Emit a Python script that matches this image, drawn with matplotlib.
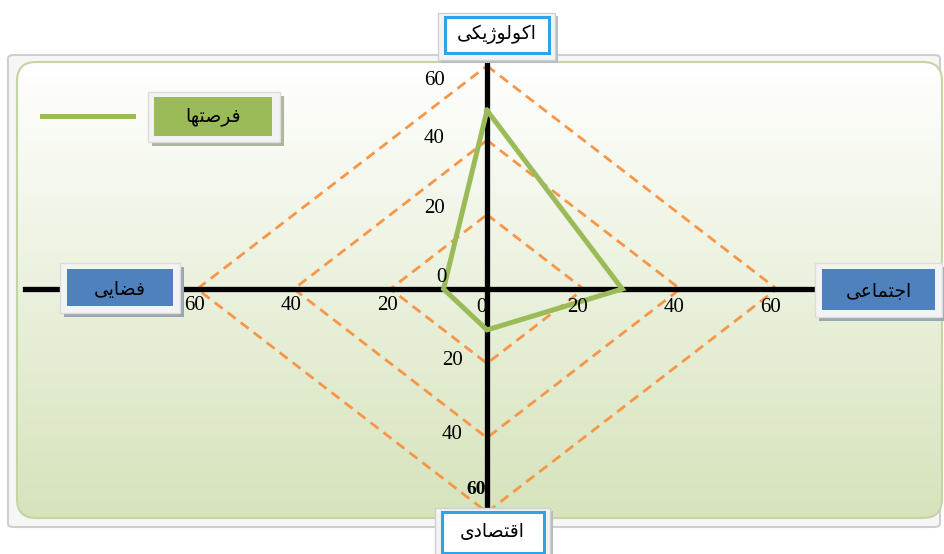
import numpy as np
import matplotlib.pyplot as plt
from matplotlib.patches import FancyBboxPatch, Rectangle

W, H = 944, 554

# chart data: one axis per category, read clockwise from the top
categories = ['اکولوژیکی', 'اجتماعی', 'اقتصادی', 'فضایی']
values = [48, 28, 11, 9]
series_name = 'فرصتها'
ring_levels = [20, 40, 60]
ticks_up = [0, 20, 40, 60]
ticks_right = [0, 20, 40, 60]
ticks_down = [20, 40, 60]
ticks_left = [20, 40, 60]

# direction of each category axis (degrees)
angles = np.deg2rad([90, 0, 270, 180])
ux = np.round(np.cos(angles), 6)
uy = np.round(np.sin(angles), 6)

# minimal Persian shaping (isolated, final, initial, medial)
FORMS = {
    'ا': ('\uFE8D', '\uFE8E', None, None),
    'ت': ('\uFE95', '\uFE96', '\uFE97', '\uFE98'),
    'ج': ('\uFE9D', '\uFE9E', '\uFE9F', '\uFEA0'),
    'د': ('\uFEA9', '\uFEAA', None, None),
    'ر': ('\uFEAD', '\uFEAE', None, None),
    'ص': ('\uFEB9', '\uFEBA', '\uFEBB', '\uFEBC'),
    'ض': ('\uFEBD', '\uFEBE', '\uFEBF', '\uFEC0'),
    'ع': ('\uFEC9', '\uFECA', '\uFECB', '\uFECC'),
    'ف': ('\uFED1', '\uFED2', '\uFED3', '\uFED4'),
    'ق': ('\uFED5', '\uFED6', '\uFED7', '\uFED8'),
    'ل': ('\uFEDD', '\uFEDE', '\uFEDF', '\uFEE0'),
    'م': ('\uFEE1', '\uFEE2', '\uFEE3', '\uFEE4'),
    'ه': ('\uFEE9', '\uFEEA', '\uFEEB', '\uFEEC'),
    'و': ('\uFEED', '\uFEEE', None, None),
    'ژ': ('\uFB8A', '\uFB8B', None, None),
    'ک': ('\uFB8E', '\uFB8F', '\uFB90', '\uFB91'),
    'ی': ('\uFBFC', '\uFBFD', '\uFBFE', '\uFBFF'),
}


def shape(word):
    out = []
    n = len(word)
    for i, ch in enumerate(word):
        iso, fin, ini, med = FORMS[ch]
        prev_join = i > 0 and FORMS[word[i - 1]][2] is not None
        next_join = i < n - 1 and ini is not None
        if prev_join and next_join:
            out.append(med)
        elif prev_join:
            out.append(fin)
        elif next_join:
            out.append(ini)
        else:
            out.append(iso)
    return ''.join(reversed(out))


def px(x, y):
    return x / W, 1 - y / H


def rect(x0, y0, x1, y1, z, **kw):
    p = Rectangle(px(x0, y1), (x1 - x0) / W, (y1 - y0) / H,
                  transform=ax.transAxes, zorder=z, **kw)
    ax.add_patch(p)
    return p


fig = plt.figure(figsize=(W / 100, H / 100), dpi=100)
ax = fig.add_axes([0, 0, 1, 1])
ax.axis('off')

# frame + gradient panel
outer = FancyBboxPatch(px(8, 527), (W - 4 - 8) / W, (527 - 55) / H,
                       boxstyle='round,pad=0,rounding_size=0.006',
                       transform=ax.transAxes, fc='#f6f6f6', ec='#cfcfcf', lw=1.5, zorder=0)
ax.add_patch(outer)
panel = FancyBboxPatch(px(17, 518), (942 - 17) / W, (518 - 62) / H,
                       boxstyle='round,pad=0,rounding_size=0.02', mutation_aspect=W / H,
                       transform=ax.transAxes, fc='none', ec='#c5d4a4', lw=1.5, zorder=2)
ax.add_patch(panel)
top_col = np.array([1.0, 1.0, 1.0])
bot_col = np.array([214, 227, 187]) / 255
t = np.linspace(0, 1, 256)[:, None]
grad = (top_col * (1 - t) + bot_col * t)[:, None, :]
x0, y0 = px(17, 518)
x1, y1 = px(942, 62)
im = ax.imshow(grad, extent=(x0, x1, y0, y1), transform=ax.transAxes,
               aspect='auto', zorder=1)
im.set_clip_path(panel)

ax.set_xlim(-487 / 4.83, (W - 487) / 4.83)
ax.set_ylim(-(H - 289) / 3.72, 289 / 3.72)

# dashed rings
for r in ring_levels:
    xs = np.append(r * ux, r * ux[0])
    ys = np.append(r * uy, r * uy[0])
    ax.plot(xs, ys, color='#f79646', lw=2.0, dashes=(3.6, 2.3), zorder=3)

# axis lines
ax.axhline(0, xmin=25 / W, xmax=1, color='black', lw=3.8, zorder=4)
ax.axvline(0, ymin=1 - 510 / H, ymax=1 - 62 / H, color='black', lw=3.8, zorder=4)

# series
vx = np.array(values) * ux
vy = np.array(values) * uy
ax.plot(np.append(vx, vx[0]), np.append(vy, vy[0]), color='#9bbb59', lw=3.6,
        solid_joinstyle='miter', zorder=5)

# tick labels
tick_font = dict(family='Liberation Serif', fontsize=15, color='black', zorder=6)
up_dy = [12, 6, 2, -15]
up_dx = [-40, -42, -42, -42]
for v, dx, dy in zip(ticks_up, up_dx, up_dy):
    ax.annotate(str(v), (0, v), xytext=(dx, dy), textcoords='offset pixels',
                ha='right', va='center', **tick_font)
for v in ticks_right:
    ax.annotate(str(v), (v, 0), xytext=(-6, -18), textcoords='offset pixels',
                ha='center', va='center', **tick_font)
for v in ticks_left:
    ax.annotate(str(v), (-v, 0), xytext=(-3, -16), textcoords='offset pixels',
                ha='center', va='center', **tick_font)
for v in ticks_down:
    if v == 60:
        ax.annotate(str(v), (0, -v), xytext=(-1, 23), textcoords='offset pixels',
                    ha='right', va='center', family='Liberation Serif', fontsize=14,
                    fontweight='bold', zorder=3.5)
    else:
        ax.annotate(str(v), (0, -v), xytext=(-24, 3), textcoords='offset pixels',
                    ha='right', va='center', **tick_font)

# category boxes
lab_font = dict(family='DejaVu Sans', fontsize=13.5, color='black', ha='center',
                va='center', transform=ax.transAxes, zorder=12)
# top and bottom: white with blue border
for name, (bx0, by0, bx1, by1) in zip([categories[0], categories[2]],
                                      [(438, 13, 555, 60), (435, 508, 550, 560)]):
    rect(bx0 + 3, by0 + 3, bx1 + 3, by1 + 3, 9, fc='#b4bcc6', ec='none')
    rect(bx0, by0, bx1, by1, 10, fc='#f3f3f3', ec='#d0d0d0', lw=1)
    rect(bx0 + 7, by0 + 4, bx1 - 6, by1 - 7, 11, fc='white', ec='#2ea3e6', lw=2.2)
    ax.text(*px((bx0 + bx1) / 2, (by0 + by1) / 2 - 2), shape(name), **lab_font)

# left and right: filled blue
for name, (bx0, by0, bx1, by1) in zip([categories[3], categories[1]],
                                      [(60, 263, 180, 313), (815, 263, 942, 317)]):
    rect(bx0 + 4, by0 + 4, bx1 + 4, by1 + 4, 9, fc='#9aa6b4', ec='none')
    rect(bx0, by0, bx1, by1, 10, fc='#f3f3f3', ec='#dcdcdc', lw=1)
    rect(bx0 + 7, by0 + 6, bx1 - 7, by1 - 7, 11, fc='#4f81bd', ec='none')
    ax.text(*px((bx0 + bx1) / 2, (by0 + by1) / 2 + 1), shape(name), **lab_font)

# legend
ax.plot([42 / W, 133 / W], [1 - 116 / H] * 2, color='#9bbb59', lw=3.6,
        transform=ax.transAxes, zorder=6)
rect(152, 96, 284, 146, 9, fc='#aab59a', ec='none')
rect(148, 92, 280, 142, 10, fc='#f3f3f3', ec='#dcdcdc', lw=1)
rect(154, 97, 272, 136, 11, fc='#9bbb59', ec='none')
ax.text(*px(213, 117), shape(series_name), **lab_font)

fig.savefig('out.png', dpi=100)
